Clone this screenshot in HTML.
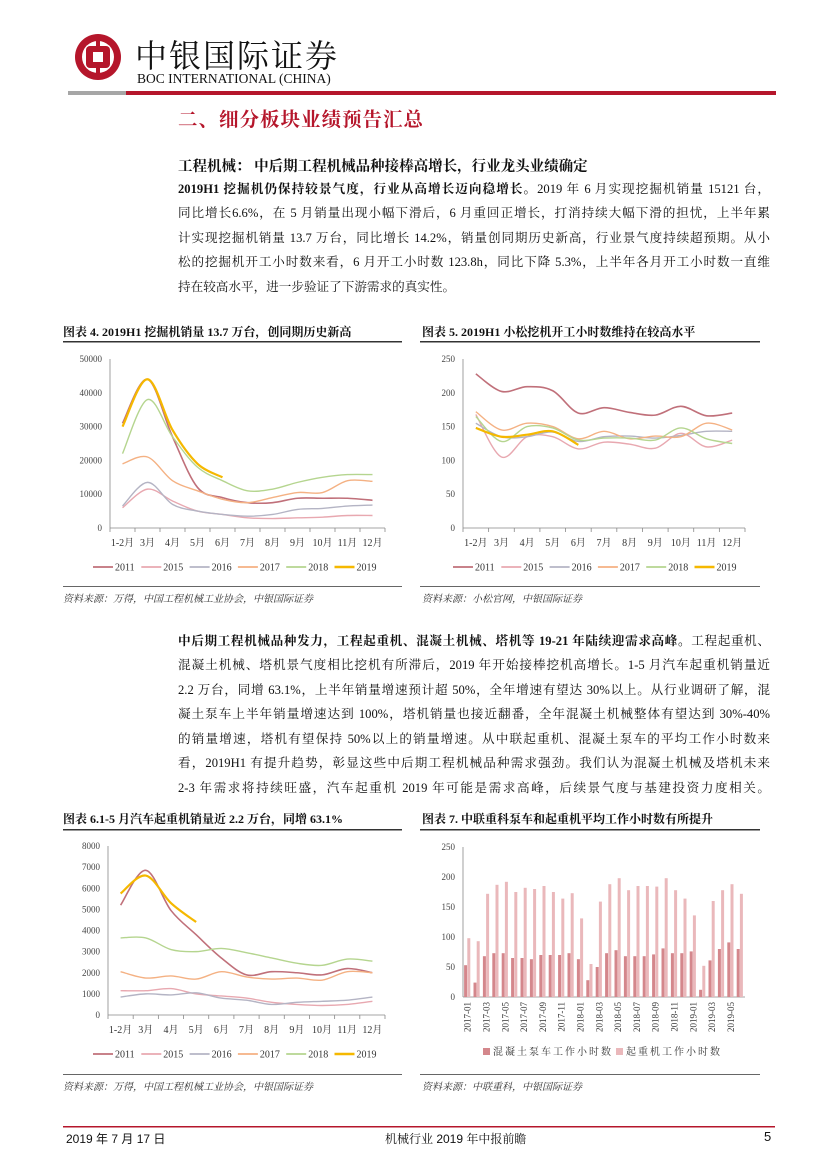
<!DOCTYPE html>
<html><head><meta charset="utf-8">
<style>
body{margin:0;background:#fff;}
#page{position:relative;width:827px;height:1169px;overflow:hidden;background:#fff;font-family:"Liberation Serif","Noto Serif CJK SC",serif;color:#111;}
.abs{position:absolute;}
.ln{position:absolute;left:178px;width:592px;font-size:12.6px;line-height:16px;text-align:justify;text-align-last:justify;white-space:nowrap;}
.ln.last{text-align-last:left;}
.b{font-weight:bold;}
.ct{position:absolute;font-size:12px;font-weight:bold;line-height:14px;white-space:nowrap;}
.src{position:absolute;font-size:10px;font-style:italic;color:#333;white-space:nowrap;}
</style></head>
<body>
<div id="page">
<svg class="abs" style="left:0;top:0" width="827" height="1169">
  <circle cx="98" cy="57" r="23" fill="#b5162b"/>
  <circle cx="98" cy="57" r="16" fill="#fff"/>
  <rect x="86" y="46" width="24" height="22" rx="4" fill="#b5162b"/>
  <rect x="93" y="52" width="10" height="10" fill="#fff"/>
  <rect x="96" y="36" width="4" height="16" fill="#b5162b"/>
  <rect x="96" y="62" width="4" height="16" fill="#b5162b"/>
  <rect x="68" y="91" width="58" height="4" fill="#a6a6a6"/>
  <rect x="126" y="91" width="650" height="4" fill="#b5162b"/>
  <rect x="63" y="1126" width="712" height="1.5" fill="#b5162b"/>
  <rect x="63" y="341" width="339" height="1.5" fill="#333"/>
  <rect x="420" y="341" width="340" height="1.5" fill="#333"/>
  <rect x="63" y="586" width="339" height="1" fill="#666"/>
  <rect x="420" y="586" width="340" height="1" fill="#666"/>
  <rect x="63" y="829" width="339" height="1.5" fill="#333"/>
  <rect x="420" y="829" width="340" height="1.5" fill="#333"/>
  <rect x="63" y="1074" width="339" height="1" fill="#666"/>
  <rect x="420" y="1074" width="340" height="1" fill="#666"/>
</svg>
<div class="abs" style="left:135px;top:31px;font-size:32px;letter-spacing:2px;font-family:'Noto Serif CJK SC',serif;">中银国际证券</div>
<div class="abs" style="left:137px;top:71px;font-size:13.5px;">BOC INTERNATIONAL (CHINA)</div>
<div class="abs b" style="left:178px;top:104px;font-size:19.5px;color:#b5162b;letter-spacing:1px;">二、细分板块业绩预告汇总</div>
<div class="abs b" style="left:178px;top:155px;font-size:14.5px;">工程机械： 中后期工程机械品种接棒高增长，行业龙头业绩确定</div>

<div class="ln" style="top:181px"><span class="b">2019H1 挖掘机仍保持较景气度，行业从高增长迈向稳增长。</span>2019 年 6 月实现挖掘机销量 15121 台，</div>
<div class="ln" style="top:205px">同比增长6.6%，在 5 月销量出现小幅下滑后，6 月重回正增长，打消持续大幅下滑的担忧，上半年累</div>
<div class="ln" style="top:230px">计实现挖掘机销量 13.7 万台，同比增长 14.2%，销量创同期历史新高，行业景气度持续超预期。从小</div>
<div class="ln" style="top:254px">松的挖掘机开工小时数来看，6 月开工小时数 123.8h，同比下降 5.3%，上半年各月开工小时数一直维</div>
<div class="ln last" style="top:279px">持在较高水平，进一步验证了下游需求的真实性。</div>

<div class="ct" style="left:63px;top:325px">图表 4. 2019H1 挖掘机销量 13.7 万台，创同期历史新高</div>
<div class="ct" style="left:422px;top:325px">图表 5. 2019H1 小松挖机开工小时数维持在较高水平</div>
<div class="src" style="left:63px;top:590px">资料来源：万得，中国工程机械工业协会，中银国际证券</div>
<div class="src" style="left:422px;top:590px">资料来源：小松官网，中银国际证券</div>

<div class="ln" style="top:633px"><span class="b">中后期工程机械品种发力，工程起重机、混凝土机械、塔机等 19-21 年陆续迎需求高峰。</span>工程起重机、</div>
<div class="ln" style="top:657px">混凝土机械、塔机景气度相比挖机有所滞后，2019 年开始接棒挖机高增长。1-5 月汽车起重机销量近</div>
<div class="ln" style="top:682px">2.2 万台，同增 63.1%，上半年销量增速预计超 50%，全年增速有望达 30%以上。从行业调研了解，混</div>
<div class="ln" style="top:706px">凝土泵车上半年销量增速达到 100%，塔机销量也接近翻番，全年混凝土机械整体有望达到 30%-40%</div>
<div class="ln" style="top:731px">的销量增速，塔机有望保持 50%以上的销量增速。从中联起重机、混凝土泵车的平均工作小时数来</div>
<div class="ln" style="top:755px">看，2019H1 有提升趋势，彰显这些中后期工程机械品种需求强劲。我们认为混凝土机械及塔机未来</div>
<div class="ln" style="top:780px">2-3 年需求将持续旺盛，汽车起重机 2019 年可能是需求高峰，后续景气度与基建投资力度相关。</div>

<div class="ct" style="left:63px;top:812px">图表 6.1-5 月汽车起重机销量近 2.2 万台，同增 63.1%</div>
<div class="ct" style="left:422px;top:812px">图表 7. 中联重科泵车和起重机平均工作小时数有所提升</div>
<div class="src" style="left:63px;top:1078px">资料来源：万得，中国工程机械工业协会，中银国际证券</div>
<div class="src" style="left:422px;top:1078px">资料来源：中联重科，中银国际证券</div>

<div class="abs" style="left:66px;top:1130px;font-size:12px;font-family:'Liberation Sans','Noto Sans CJK SC',sans-serif;">2019 年 7 月 17 日</div>
<div class="abs" style="left:385px;top:1130px;font-size:12px;font-family:'Liberation Sans','Noto Serif CJK SC',sans-serif;">机械行业 2019 年中报前瞻</div>
<div class="abs" style="left:764px;top:1129px;font-size:13px;font-family:'Liberation Sans',sans-serif;">5</div>

<svg id="charts" class="abs" style="left:0;top:0" width="827" height="1169"></svg>
</div>
<script>
const monthCats = ["1-2月","3月","4月","5月","6月","7月","8月","9月","10月","11月","12月"];
const seriesYears = ["2011","2015","2016","2017","2018","2019"];
// Chart 4: excavator sales
const exc2011 = [31000,44000,27000,12000,9000,7500,7500,8800,8800,8800,8200];
const exc2015 = [6000,11500,8000,5000,4000,3000,2800,3000,3200,3700,3700];
const exc2016 = [6500,13500,7000,5000,4000,3500,4000,5500,5800,6500,6800];
const exc2017 = [19000,21000,14000,11000,8500,7500,9000,10500,10500,14000,13800];
const exc2018 = [22000,38000,27000,18000,14000,11000,11500,13500,15000,15800,15800];
const exc2019 = [30000,44000,29000,19000,15000];
const excTicks = [0,10000,20000,30000,40000,50000];
// Chart 5: Komatsu hours
const kom2011 = [228,202,209,203,170,178,171,167,180,166,170];
const kom2015 = [168,105,135,135,117,127,124,118,140,120,130];
const kom2016 = [155,135,135,142,128,135,136,133,137,143,143];
const kom2017 = [172,145,155,150,132,143,132,136,135,155,145];
const kom2018 = [165,128,150,148,130,133,133,130,148,132,125];
const kom2019 = [148,135,138,143,123];
const komTicks = [0,50,100,150,200,250];
// Chart 6: truck crane sales
const crn2011 = [5200,6850,4950,3800,2700,1900,2050,2000,1900,2200,2000];
const crn2015 = [1150,1150,1250,1000,900,800,600,500,450,500,650];
const crn2016 = [850,1000,950,1050,800,700,500,600,650,700,850];
const crn2017 = [2050,1750,1850,1700,2050,1800,1700,1750,1650,2050,2000];
const crn2018 = [3650,3650,3100,3000,3150,2950,2700,2450,2350,2650,2550];
const crn2019 = [5750,6600,5300,4400];
const crnTicks = [0,1000,2000,3000,4000,5000,6000,7000,8000];
// Chart 7: Zoomlion working hours
const zlMonths = ["2017-01","2017-02","2017-03","2017-04","2017-05","2017-06","2017-07","2017-08","2017-09","2017-10","2017-11","2017-12","2018-01","2018-02","2018-03","2018-04","2018-05","2018-06","2018-07","2018-08","2018-09","2018-10","2018-11","2018-12","2019-01","2019-02","2019-03","2019-04","2019-05","2019-06"];
const pumpHours = [53,24,68,73,73,65,65,63,70,70,70,73,63,28,50,73,78,68,68,68,71,81,73,73,76,12,61,80,91,80];
const craneHours = [98,93,172,187,192,175,182,180,185,175,164,173,131,55,159,188,198,178,185,185,184,198,178,164,136,52,160,178,188,172];
const zlTicks = [0,50,100,150,200,250];
const zlLegend = ["混凝土泵车工作小时数","起重机工作小时数"];

const NS = "http://www.w3.org/2000/svg";
const svg = document.getElementById('charts');
function mk(tag, attrs, parent){const e=document.createElementNS(NS,tag);for(const k in attrs)e.setAttribute(k,attrs[k]);(parent||svg).appendChild(e);return e;}
const colors = ["#c0707a","#e8a8b0","#b4b4c4","#f4b183","#b5d58f","#f5b800"];
const widths = [1.6,1.4,1.4,1.4,1.4,2.2];

function smoothPath(pts){
  let d="M"+pts[0][0]+","+pts[0][1];
  for(let i=0;i<pts.length-1;i++){
    const p0=pts[i-1]||pts[i],p1=pts[i],p2=pts[i+1],p3=pts[i+2]||p2;
    const c1x=p1[0]+(p2[0]-p0[0])/6,c1y=p1[1]+(p2[1]-p0[1])/6;
    const c2x=p2[0]-(p3[0]-p1[0])/6,c2y=p2[1]-(p3[1]-p1[1])/6;
    d+=" C"+c1x+","+c1y+" "+c2x+","+c2y+" "+p2[0]+","+p2[1];
  }
  return d;
}

function lineChart(cfg){
  const g=mk('g',{});
  
  
  const ymax=cfg.ticks[cfg.ticks.length-1];
  const yS=v=>cfg.y0-(v/ymax)*(cfg.y0-cfg.yTop);
  const band=(cfg.x1-cfg.x0)/monthCats.length;
  const xS=i=>cfg.x0+band*(i+0.5);
  const yaxis=mk('line',{x1:cfg.x0,x2:cfg.x0,y1:cfg.y0,y2:cfg.yTop,stroke:"#888","stroke-width":0.8},g);
  
  
  const xaxis=mk('line',{x1:cfg.x0,x2:cfg.x1,y1:cfg.y0,y2:cfg.y0,stroke:"#888","stroke-width":0.8},g);
  
  
  cfg.ticks.forEach(t=>{
    const tx=mk('text',{x:cfg.x0-8,y:yS(t)+3,"text-anchor":"end","font-size":9,fill:"#444","font-family":"Liberation Serif,serif"},g);
    tx.textContent=t;
    
    
  });
  for(let i=0;i<=monthCats.length;i++){
    mk('line',{x1:cfg.x0+band*i,x2:cfg.x0+band*i,y1:cfg.y0,y2:cfg.y0+4,stroke:"#888","stroke-width":0.8},g);
  }
  monthCats.forEach((c,i)=>{
    const tx=mk('text',{x:xS(i),y:cfg.y0+18,"text-anchor":"middle","font-size":10,fill:"#333","font-family":"Liberation Serif,Noto Serif CJK SC,serif"},g);
    tx.textContent=c;
    
    
  });
  cfg.series.forEach((s,k)=>{
    const pts=s.map((v,i)=>[xS(i),yS(v)]);
    const p=mk('path',{d:smoothPath(pts),fill:"none",stroke:colors[k],"stroke-width":widths[k]},g);
    
    
  });
  seriesYears.forEach((y,k)=>{
    const lx=cfg.legX+48.3*k;
    const ll=mk('line',{x1:lx,x2:lx+20,y1:cfg.legY,y2:cfg.legY,stroke:colors[k],"stroke-width":k==5?2.4:1.8},g);
    
    
    const lt=mk('text',{x:lx+22,y:cfg.legY+3.5,"font-size":10,fill:"#333","font-family":"Liberation Serif,serif"},g);
    lt.textContent=y;
    
    
  });
}

lineChart({name:"chart4-excavator-sales",x0:110,x1:385,y0:528,yTop:359,ticks:excTicks,series:[exc2011,exc2015,exc2016,exc2017,exc2018,exc2019],legX:93,legY:567});
lineChart({name:"chart5-komatsu-hours",x0:463,x1:745,y0:528,yTop:359,ticks:komTicks,series:[kom2011,kom2015,kom2016,kom2017,kom2018,kom2019],legX:453,legY:567});
lineChart({name:"chart6-crane-sales",x0:108,x1:385,y0:1015,yTop:846,ticks:crnTicks,series:[crn2011,crn2015,crn2016,crn2017,crn2018,crn2019],legX:93,legY:1054});

(function(){
  const g=mk('g',{});
  
  
  const x0=463,x1=745,y0=997,yTop=847;
  const ymax=zlTicks[zlTicks.length-1];
  const yS=v=>y0-(v/ymax)*(y0-yTop);
  const band=(x1-x0)/zlMonths.length;
  mk('line',{x1:x0,x2:x0,y1:y0,y2:yTop,stroke:"#888","stroke-width":0.8},g);
  mk('line',{x1:x0,x2:x1,y1:y0,y2:y0,stroke:"#888","stroke-width":0.8},g);
  zlTicks.forEach(t=>{
    const tx=mk('text',{x:x0-8,y:yS(t)+3,"text-anchor":"end","font-size":9,fill:"#444","font-family":"Liberation Serif,serif"},g);
    tx.textContent=t;
    
    
  });
  zlMonths.forEach((m,i)=>{
    const cx=x0+band*(i+0.5);
    const b1=mk('rect',{x:cx-3.6,y:yS(pumpHours[i]),width:3,height:y0-yS(pumpHours[i]),fill:"#d4878c"},g);
    
    
    const b2=mk('rect',{x:cx-0.4,y:yS(craneHours[i]),width:3,height:y0-yS(craneHours[i]),fill:"#eab8bb"},g);
    
    
    if(i%2===0){
      const tx=mk('text',{x:0,y:0,"text-anchor":"end","font-size":9,fill:"#333","font-family":"Liberation Serif,serif",transform:"translate("+(cx+3)+","+(y0+5)+") rotate(-90)"},g);
      tx.textContent=m;
      
      
    }
  });
  const legX=[483,616], legC=["#d4878c","#eab8bb"];
  zlLegend.forEach((t,k)=>{
    const sq=mk('rect',{x:legX[k],y:1048,width:7,height:7,fill:legC[k]},g);
    
    
    const lt=mk('text',{x:legX[k]+10,y:1055,"font-size":10,fill:"#333","letter-spacing":"2","font-family":"Noto Serif CJK SC,serif"},g);
    lt.textContent=t;
    
    
  });
})();
</script>
</body></html>
